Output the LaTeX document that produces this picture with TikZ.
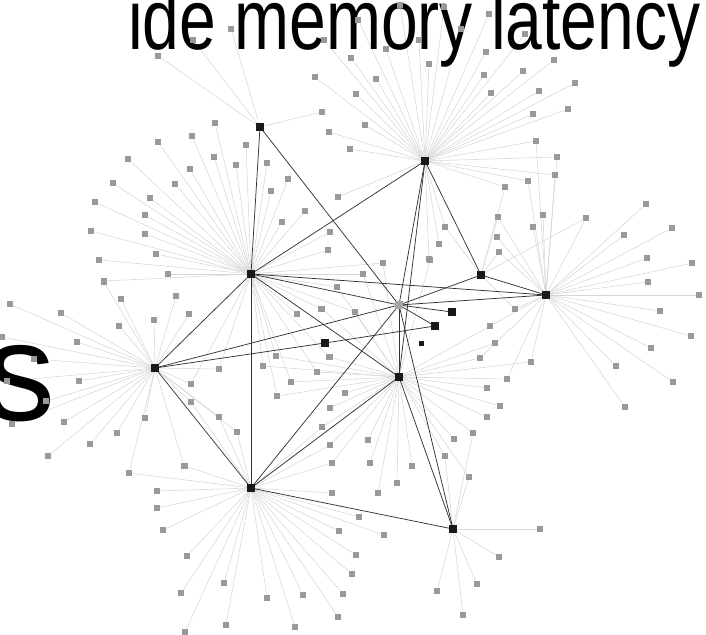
\documentclass[tikz,border=0pt]{standalone}
\usepackage{fontspec}
\setmainfont{Liberation Sans}
\usetikzlibrary{backgrounds}

\begin{document}
\begin{tikzpicture}[
    x=1pt, y=-1pt,
    hub/.style={fill=black!90, minimum size=7.5pt, inner sep=0pt},
    mid/.style={fill=black!35, minimum size=8pt, inner sep=0pt},
    leaf/.style={fill=black!40, minimum size=6.5pt, inner sep=0pt},
    core/.style={draw=black!80, line width=0.75pt},
    spoke/.style={draw=black!16, line width=0.55pt},
    bigtext/.style={font=\fontsize{66}{66}\selectfont, inner sep=0pt}
]
\useasboundingbox (0,0) rectangle (706,634);

% caption text cut by the page
\node[bigtext, anchor=base west] (title) at (128,50) {\scalebox{1}[1.3]{ide memory latency}};
\node[bigtext, font=\fontsize{140}{140}\selectfont, anchor=base east] (tail) at (56,420) {s};

% hubs
\node[hub] (ht) at (260,127) {};
\node[hub] (ha) at (425,161) {};
\node[hub] (hb) at (251,274) {};
\node[hub] (hc) at (481,275) {};
\node[hub] (hd) at (546,295) {};
\node[mid] (hg) at (399,305) {};
\node[hub] (he) at (452,312) {};
\node[hub] (hf) at (435,326) {};
\node[hub] (hm) at (325,343) {};
\node[hub, minimum size=5pt] (hs) at (421,343) {};
\node[hub] (hh) at (155,368) {};
\node[hub] (hi) at (399,377) {};
\node[hub] (hj) at (251,488) {};
\node[hub] (hk) at (453,529) {};

% leaves of each hub
\foreach \hub/\pts in {
    ht/{158/56, 193/40, 231/29, 322/112},
    ha/{324/40, 358/20, 315/77, 351/58, 356/94, 376/79, 386/49, 400/5, 419/40, 429/64, 444/7, 461/29, 486/52, 484/75, 489/14, 491/93, 523/71, 525/34, 554/60, 539/91, 575/83, 568/109, 533/114, 365/125, 329/132, 350/149, 536/141, 557/157, 555/175, 528/181, 505/187, 338/197, 445/227, 439/244, 429/259},
    hb/{215/123, 192/136, 158/142, 246/145, 128/159, 214/157, 236/165, 267/163, 190/169, 113/183, 175/184, 271/191, 150/198, 95/202, 145/215, 91/231, 145/234, 156/254, 99/260, 168/274, 104/281, 288/179, 305/211, 282/222, 330/232, 328/250, 363/274, 337/287, 383/263, 297/314, 321/309, 355/312, 276/356, 329/357, 263/366, 317/372, 291/382, 219/369, 191/384, 277/396},
    hh/{104/282, 121/299, 176/296, 10/304, 61/313, 154/320, 189/314, 119/326, 2/337, 77/342, 34/359, 219/369, 7/381, 79/381, 191/384, 46/401, 191/402, 64/422, 12/424, 145/418, 219/417, 117/433, 237/432, 90/444, 48/456, 184/466, 129/473},
    hi/{322/309, 355/312, 383/263, 430/260, 363/274, 337/287, 490/326, 495/343, 480/358, 330/357, 317/372, 487/388, 345/393, 500/406, 330/408, 487/417, 276/356, 263/366, 291/382, 277/396, 322/427, 368/440, 330/445, 332/463, 370/463, 412/466, 397/483, 378/493, 473/433, 454/439, 445/456, 469/477, 531/362, 507/379},
    hj/{237/432, 185/466, 157/491, 157/508, 163/530, 332/493, 359/517, 339/531, 384/535, 187/556, 356/555, 352/574, 224/583, 181/593, 267/598, 303/595, 343/594, 338/617, 226/625, 295/627, 185/632, 219/417, 191/402, 322/427, 330/445, 332/463, 129/473},
    hk/{437/591, 477/584, 463/615, 540/529, 499/557, 473/433, 469/477, 445/456},
    hd/{586/218, 646/204, 624/235, 672/228, 647/258, 692/263, 648/282, 699/295, 660/311, 691/336, 651/348, 616/366, 673/382, 625/407, 515/309, 543/215, 533/227, 498/217, 497/237, 499/252, 531/362, 507/379, 490/326, 480/358, 536/141, 557/157, 555/175, 528/181},
    hc/{505/187, 498/217, 499/252, 586/218, 445/227, 515/309}}{
  \foreach \x/\y [count=\i] in \pts {
    \node[leaf] (\hub-\i) at (\x,\y) {};
    \begin{scope}[on background layer]
      \draw[spoke] (\hub) -- (\hub-\i);
    \end{scope}
  }
}

% links between hubs
\begin{scope}[on background layer]
\foreach \u/\v in {ht/hb, ht/hg, ha/hb, ha/hc, ha/hg, ha/hi, hb/hh, hb/hj, hb/hi, hb/hg, hb/hd,
    hc/hd, hc/hg, hg/hd, hg/he, hg/hf, hg/hi, hg/hj, hg/hk, hh/hj, hh/hm, hh/hg,
    hm/hf, hi/hj, hi/hk, hj/hk}
  \draw[core] (\u) -- (\v);
\end{scope}
\end{tikzpicture}
\end{document}
